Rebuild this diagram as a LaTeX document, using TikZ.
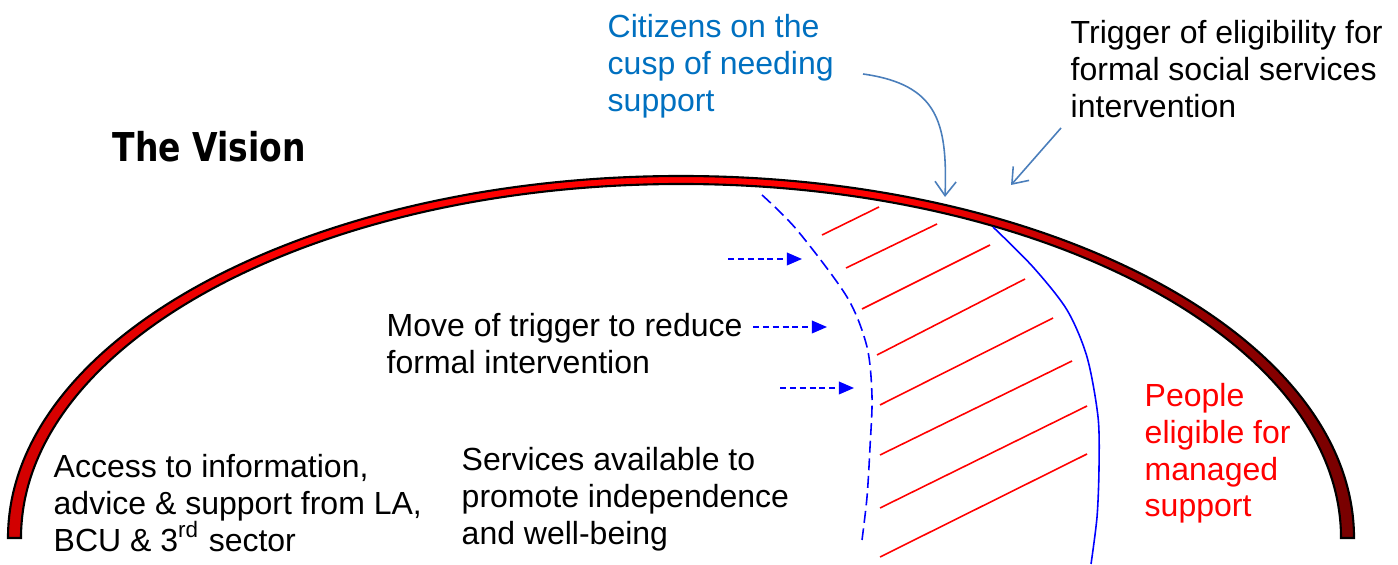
\documentclass[tikz,border=0pt]{standalone}
\usepackage{fontspec}
\setmainfont{Liberation Sans}
\newfontfamily\visionfont[FakeStretch=0.83]{DejaVu Sans}
\usetikzlibrary{arrows.meta}

\definecolor{steel}{HTML}{4A7EBB}
\definecolor{cuspblue}{HTML}{0070C0}
\pgfdeclarehorizontalshading{bandshade}{100bp}{color(0bp)=(red!82!black); color(25bp)=(red!82!black);
  color(30bp)=(red!90!black); color(36bp)=(red); color(58bp)=(red); color(62bp)=(red!85!black);
  color(67bp)=(red!65!black); color(73bp)=(red!50!black); color(75bp)=(red!47!black); color(100bp)=(red!47!black)}

\tikzset{
  lbl/.style={font=\fontsize{9.1pt}{10.4pt}\selectfont, align=left, inner sep=0pt, anchor=north west},
  hatch/.style={red, line width=0.45pt},
  trig/.style={blue, line width=0.45pt},
  push/.style={blue, line width=0.45pt, dash pattern=on 1.7pt off 1.1pt, -{Triangle[length=4.3pt,width=3.6pt]}},
  callout/.style={steel, line width=0.45pt, -{Straight Barb[length=4pt,width=6pt]}},
}

\begin{document}
\begin{tikzpicture}[x=0.01cm, y=0.01cm]
\useasboundingbox (0,0) rectangle (1398,564);

% the big arc
\shadedraw[shading=bandshade, draw=black, line width=0.6pt]
  (8,26) arc[start angle=180, end angle=0, x radius=673, y radius=362]
  -- (1341,26) arc[start angle=0, end angle=180, x radius=660, y radius=354] -- cycle;

% hatching between the triggers
\foreach \ax/\ay/\bx/\by in {822/329/879/357, 846/296/937/340, 862/255/990/319, 877/209/1025/285,
  880/159/1053/246, 880/109/1072/203, 880/56/1087/158, 880/7/1087/110}
  \draw[hatch] (\ax,\ay) -- (\bx,\by);

% new trigger (dashed) and current trigger
\draw[trig, dash pattern=on 3.4pt off 1.6pt] plot[smooth] coordinates
  {(762,369) (797,334) (847,267) (867,217) (872,167) (870,117) (867,67) (862,24)};
\draw[trig] plot[smooth] coordinates
  {(993,337) (1033,297) (1067,254) (1087,207) (1098,147) (1099,97) (1097,47) (1091,0)};

% moving the trigger
\foreach \px/\py in {728/305, 753/237, 780/176}
  \draw[push] (\px,\py) -- ++(74,0);

% labels
\node[anchor=base west, inner sep=0pt, font=\visionfont\bfseries\fontsize{11.3pt}{13pt}\selectfont] (vision) at (112,402) {The Vision};
\node[lbl, text=cuspblue] (citizens) at (607,550) {Citizens on the\\cusp of needing\\support};
\node[lbl] (trigger) at (1070,544) {Trigger of eligibility for\\formal social services\\intervention};
\node[lbl] (move) at (386,251) {Move of trigger to reduce\\formal intervention};
\node[lbl] (access) at (53,110) {Access to information,\\advice \& support from LA,\\BCU \& 3\textsuperscript{rd} sector};
\node[lbl] (services) at (461,117) {Services available to\\promote independence\\and well-being};
\node[lbl, text=red] (eligible) at (1144,181) {People\\eligible for\\managed\\support};

% callouts
\coordinate (cuspfrom) at (863,490);
\coordinate (cuspto) at (945,367);
\coordinate (trigfrom) at (1061,436);
\coordinate (trigto) at (1011,379);
\draw[callout] (cuspfrom) to[out=-8, in=88, looseness=1.3] (cuspto);
\draw[callout] (trigfrom) -- (trigto);
\end{tikzpicture}
\end{document}
